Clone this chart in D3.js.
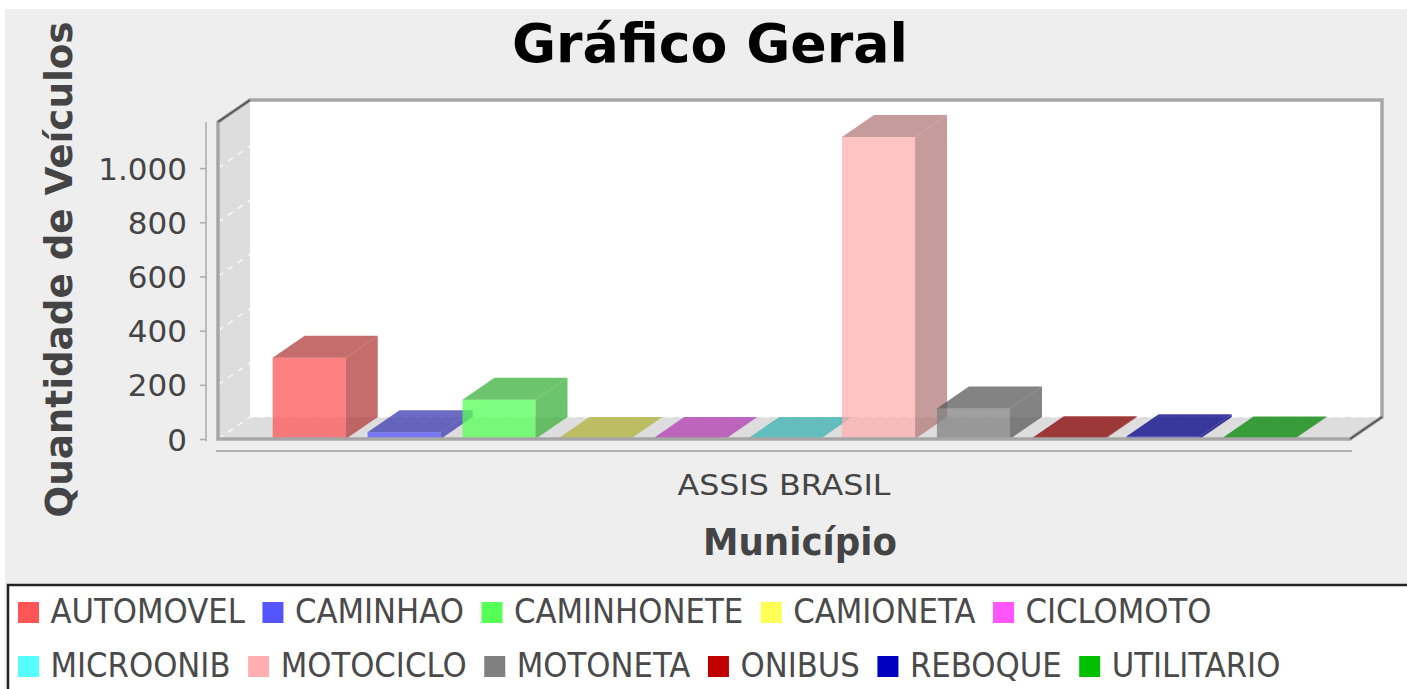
<!DOCTYPE html>
<html><head><meta charset="utf-8">
<script src="https://cdn.jsdelivr.net/npm/d3@7"></script>
<style>html,body{margin:0;padding:0;background:#fff;overflow:hidden}</style>
</head><body><svg id="c" width="1407" height="689"></svg>
<script>
const categories = ["ASSIS BRASIL"];
const seriesNames = ["AUTOMOVEL","CAMINHAO","CAMINHONETE","CAMIONETA","CICLOMOTO","MICROONIB","MOTOCICLO","MOTONETA","ONIBUS","REBOQUE","UTILITARIO"];
const seriesColors = ["#FF5555","#5555FF","#55FF55","#FFFF55","#FF55FF","#55FFFF","#FFAFAF","#808080","#C00000","#0000C0","#00C000"];
const values = [300, 25, 145, 0, 0, 0, 1115, 113, 3, 10, 2];
const yTicks = [0, 200, 400, 600, 800, 1000];
const titleText = "Gráfico Geral";
const xLabel = "Município";
const yLabel = "Quantidade de Veículos";

const svg = d3.select("#c");
const FONT = "'DejaVu Sans', sans-serif";
const DX = 32, DY = -22;
const L = 218, R = 1350, T = 122, B = 439;

svg.append("rect").attr("x",5).attr("y",9).attr("width",1402).attr("height",680).attr("fill","#EEEEEE");

const y = d3.scaleLinear().domain([0, 1170]).range([B, T]);
const cat = d3.scaleBand().domain(categories).range([L, R]).padding(0);
const loc = d3.formatLocale({decimal:",", thousands:".", grouping:[3], currency:["R$",""]});
const fmt = loc.format(",d");

// walls
svg.append("polygon").attr("points",[[L,T],[L+DX,T+DY],[L+DX,B+DY],[L,B]].join(" ")).attr("fill","#DDDDDD");
svg.append("rect").attr("x",L+DX).attr("y",T+DY).attr("width",R-L).attr("height",B-T).attr("fill","#FFFFFF");
svg.append("polygon").attr("points",[[L,B],[L+DX,B+DY],[R+DX,B+DY],[R,B]].join(" ")).attr("fill","#DDDDDD");

// gridlines
const grid = svg.append("g").attr("stroke","#FFFFFF").attr("stroke-width",1.4).attr("stroke-dasharray","6,6").attr("fill","none").attr("stroke-opacity",0.85);
yTicks.forEach(t => {
  grid.append("path").attr("d",`M${L},${y(t)}L${L+DX},${y(t)+DY}L${R+DX},${y(t)+DY}`);
});

// bars
const sx = d3.scaleBand().domain(seriesNames)
  .range([cat(categories[0]) + cat.bandwidth()*0.0483, cat(categories[0]) + cat.bandwidth()*(1-0.0489)])
  .paddingInner(0.23).paddingOuter(0);
const bars = svg.append("g");
seriesNames.forEach((s,i) => {
  const x0 = sx(s), x1 = x0 + sx.bandwidth();
  const yt = y(values[i]), yb = y(0);
  const c = d3.color(seriesColors[i]);
  const dk = d3.rgb(Math.floor(c.r*0.7), Math.floor(c.g*0.7), Math.floor(c.b*0.7));
  const g = bars.append("g");
  g.append("rect").attr("x",x0).attr("y",yt).attr("width",x1-x0).attr("height",yb-yt)
    .attr("fill",c.formatHex()).attr("fill-opacity",0.75);
  g.append("polygon").attr("points",[[x0,yt],[x0+DX,yt+DY],[x1+DX,yt+DY],[x1,yt]].join(" "))
    .attr("fill",dk.formatHex()).attr("fill-opacity",0.75);
  if (yb - yt > 0.5)
    g.append("polygon").attr("points",[[x1,yt],[x1+DX,yt+DY],[x1+DX,yb+DY],[x1,yb]].join(" "))
      .attr("fill",dk.formatHex()).attr("fill-opacity",0.75);
});

// outline of 3d box
svg.append("path").attr("d",`M${L},${B}L${L},${T}L${L+DX},${T+DY}L${R+DX},${T+DY}L${R+DX},${B+DY}L${R},${B}Z`)
  .attr("fill","none").attr("stroke","#A6A6A6").attr("stroke-width",3.5);
svg.append("path").attr("d",`M${L},${T}L${L+DX},${T+DY}M${R+DX},${B+DY}L${R},${B}`)
  .attr("fill","none").attr("stroke","#555").attr("stroke-width",1.6);

// value axis
const ax = svg.append("g").attr("transform","translate(206,0)");
ax.call(d3.axisLeft(y).tickValues(yTicks).tickFormat(fmt).tickSize(6).tickPadding(13));
ax.select(".domain").attr("stroke","#AAAAAA").attr("stroke-width",1.5).attr("d",`M0,${T}V${y(0)+2}`);
ax.selectAll(".tick line").attr("stroke","#AAAAAA").attr("stroke-width",1.5);
ax.selectAll(".tick text").attr("fill","#444").style("font-family",FONT).style("font-size","31px").attr("dy","0.36em");

// category axis
svg.append("line").attr("x1",L-2).attr("x2",R+2).attr("y1",451).attr("y2",451).attr("stroke","#B0B0B0").attr("stroke-width",2);
categories.forEach(cn => {
  svg.append("text").attr("x",cat(cn)+cat.bandwidth()/2).attr("y",495).attr("text-anchor","middle")
    .attr("fill","#444").style("font-family",FONT).style("font-size","27.5px")
    .attr("textLength",213).attr("lengthAdjust","spacingAndGlyphs").text(cn);
});

// axis labels and title
svg.append("text").attr("x",(L+R+DX)/2).attr("y",555).attr("text-anchor","middle")
  .attr("fill","#444").style("font-family",FONT).style("font-weight","bold").style("font-size","37px")
  .attr("textLength",194).attr("lengthAdjust","spacingAndGlyphs").text(xLabel);
svg.append("text").attr("transform",`translate(72,${(T+DY+B)/2}) rotate(-90)`).attr("text-anchor","middle")
  .attr("fill","#444").style("font-family",FONT).style("font-weight","bold").style("font-size","37px")
  .attr("textLength",496).attr("lengthAdjust","spacingAndGlyphs").text(yLabel);
svg.append("text").attr("x",710).attr("y",62).attr("text-anchor","middle")
  .attr("fill","#000").style("font-family",FONT).style("font-weight","bold").style("font-size","53.5px")
  .attr("textLength",396).attr("lengthAdjust","spacingAndGlyphs").text(titleText);

// legend
svg.append("rect").attr("x",8).attr("y",585).attr("width",1430).attr("height",140)
  .attr("fill","#FFFFFF").attr("stroke","#222").attr("stroke-width",2.5);
const lg = svg.append("g");
let lx = 18, row = 0;
const rowBase = [623, 677];
const SQ = 21, GAP = 11.5, SEP = 17.5, SCALE = 0.905, MAXX = 1400;
seriesNames.forEach((s,i) => {
  const t = lg.append("text").style("font-family",FONT).style("font-size","34px").attr("fill","#4a4a4a").text(s);
  const w = t.node().getComputedTextLength()*SCALE;
  if (lx + SQ + GAP + w > MAXX) { row++; lx = 18; }
  const by = rowBase[row];
  lg.append("rect").attr("x",lx).attr("y",by-SQ).attr("width",SQ).attr("height",SQ).attr("fill",seriesColors[i]);
  t.attr("transform",`translate(${lx+SQ+GAP},${by}) scale(${SCALE},1)`);
  lx += SQ + GAP + w + SEP;
});
</script></body></html>
